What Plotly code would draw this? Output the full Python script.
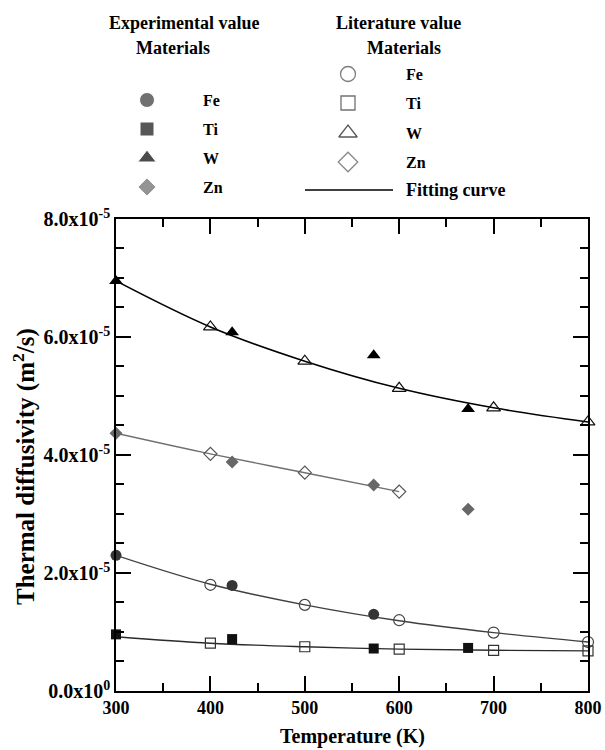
import plotly.graph_objects as go

# ---------------- data (thermal diffusivity, m^2/s) ----------------
T_exp = [300, 423, 573, 673]
T_exp_fe = [300, 423, 573]
fe_exp = [2.30e-5, 1.79e-5, 1.30e-5]
ti_exp = [0.96e-5, 0.88e-5, 0.72e-5, 0.73e-5]
w_exp = [6.95e-5, 6.08e-5, 5.69e-5, 4.78e-5]
zn_exp = [4.37e-5, 3.88e-5, 3.49e-5, 3.08e-5]

T_lit = [400, 500, 600, 700, 800]
T_lit_zn = [400, 500, 600]
fe_lit = [1.80e-5, 1.46e-5, 1.20e-5, 0.99e-5, 0.83e-5]
ti_lit = [0.81e-5, 0.75e-5, 0.71e-5, 0.69e-5, 0.68e-5]
w_lit = [6.17e-5, 5.59e-5, 5.13e-5, 4.80e-5, 4.56e-5]
zn_lit = [4.02e-5, 3.70e-5, 3.38e-5]

T_fit = [300, 400, 500, 600, 700, 800]
T_fit_zn = [300, 400, 500, 600]
fe_fit = [2.30e-5, 1.81e-5, 1.46e-5, 1.19e-5, 0.99e-5, 0.83e-5]
ti_fit = [0.92e-5, 0.81e-5, 0.75e-5, 0.71e-5, 0.69e-5, 0.68e-5]
w_fit = [6.95e-5, 6.17e-5, 5.59e-5, 5.13e-5, 4.80e-5, 4.56e-5]
zn_fit = [4.37e-5, 4.02e-5, 3.70e-5, 3.38e-5]

x_tickvals = [300, 400, 500, 600, 700, 800]
y_tickvals = [0, 2e-5, 4e-5, 6e-5, 8e-5]
y_ticktext = ["0.0x10<sup>0</sup>", "2.0x10<sup>-5</sup>", "4.0x10<sup>-5</sup>",
              "6.0x10<sup>-5</sup>", "8.0x10<sup>-5</sup>"]

materials = ["Fe", "Ti", "W", "Zn"]

# ---------------- styles ----------------
FONT = "Liberation Serif"
C_FE, C_TI, C_W, C_ZN = "#353535", "#111111", "#000000", "#676767"

fig = go.Figure()

# fitting curves
for xs, ys, col, w in [(T_fit, w_fit, "#000000", 1.6), (T_fit_zn, zn_fit, "#707070", 1.4),
                       (T_fit, fe_fit, "#404040", 1.4), (T_fit, ti_fit, "#2a2a2a", 1.4)]:
    fig.add_trace(go.Scatter(x=xs, y=ys, mode="lines", line=dict(color=col, width=w, shape="spline"),
                             showlegend=False, hoverinfo="skip", cliponaxis=False))

# literature (open symbols)
for xs, ys, sym, col, sz in [(T_lit, fe_lit, "circle-open", "#444444", 11),
                             (T_lit, ti_lit, "square-open", "#333333", 10),
                             (T_lit, w_lit, "triangle-up-open", "#111111", 12),
                             (T_lit_zn, zn_lit, "diamond-open", "#555555", 10)]:
    fig.add_trace(go.Scatter(x=xs, y=ys, mode="markers", cliponaxis=False,
                             marker=dict(symbol=sym, size=sz, color=col, line=dict(width=1.2, color=col)),
                             showlegend=False))

# experimental (filled symbols)
for xs, ys, sym, col, sz in [(T_exp_fe, fe_exp, "circle", C_FE, 11),
                             (T_exp, ti_exp, "square", C_TI, 10),
                             (T_exp, w_exp, "triangle-up", C_W, 12),
                             (T_exp, zn_exp, "diamond", C_ZN, 10)]:
    fig.add_trace(go.Scatter(x=xs, y=ys, mode="markers", cliponaxis=False,
                             marker=dict(symbol=sym, size=sz, color=col, line=dict(width=0)),
                             showlegend=False))

# minor-tick carrier (empty) on overlay axes
fig.add_trace(go.Scatter(x=[None], y=[None], xaxis="x3", yaxis="y3", mode="markers",
                         showlegend=False, hoverinfo="skip"))

# ---------------- custom legend (on an invisible pixel-mapped axis pair) ----------------
exp_leg_y = [100, 129, 158, 187]
lit_leg_y = [74, 103, 133, 162]
fig.add_trace(go.Scatter(x=[147] * 4, y=exp_leg_y, xaxis="x2", yaxis="y2", mode="markers",
                         marker=dict(symbol=["circle", "square", "triangle-up", "diamond"],
                                     size=[15, 14, 16, 14], color=[C_FE, C_TI, C_W, C_ZN]),
                         showlegend=False, hoverinfo="skip", cliponaxis=False))
fig.add_trace(go.Scatter(x=[348] * 4, y=lit_leg_y, xaxis="x2", yaxis="y2", mode="markers",
                         marker=dict(symbol=["circle-open", "square-open", "triangle-up-open", "diamond-open"],
                                     size=[15, 14, 16, 15], color=["#444", "#333", "#111", "#555"],
                                     line=dict(width=1.3)),
                         showlegend=False, hoverinfo="skip", cliponaxis=False))
fig.add_trace(go.Scatter(x=[305, 393], y=[190, 190], xaxis="x2", yaxis="y2", mode="lines",
                         line=dict(color="black", width=1.5), showlegend=False, hoverinfo="skip"))

ann = []
bold18 = dict(family=FONT, size=18, color="black")
bold16 = dict(family=FONT, size=16, color="black")
def B(s):
    return "<b>" + s + "</b>"
ann.append(dict(x=184, y=23, xref="x2", yref="y2", text=B("Experimental value"), showarrow=False,
                font=bold18, xanchor="center", yanchor="middle"))
ann.append(dict(x=173, y=48, xref="x2", yref="y2", text=B("Materials"), showarrow=False,
                font=bold18, xanchor="center", yanchor="middle"))
ann.append(dict(x=398, y=23, xref="x2", yref="y2", text=B("Literature value"), showarrow=False,
                font=bold18, xanchor="center", yanchor="middle"))
ann.append(dict(x=404, y=48, xref="x2", yref="y2", text=B("Materials"), showarrow=False,
                font=bold18, xanchor="center", yanchor="middle"))
for m, yy in zip(materials, exp_leg_y):
    ann.append(dict(x=201, y=yy, xref="x2", yref="y2", text=B(m), showarrow=False,
                    font=bold16, xanchor="left", yanchor="middle"))
for m, yy in zip(materials, lit_leg_y):
    ann.append(dict(x=404, y=yy, xref="x2", yref="y2", text=B(m), showarrow=False,
                    font=bold16, xanchor="left", yanchor="middle"))
ann.append(dict(x=404, y=190, xref="x2", yref="y2", text=B("Fitting curve"), showarrow=False,
                font=bold18, xanchor="left", yanchor="middle"))

# axis titles
ann.append(dict(x=0.5, y=0, xref="paper", yref="paper", yshift=-45, text=B("Temperature (K)"),
                showarrow=False, font=dict(family=FONT, size=20, color="black"),
                xanchor="center", yanchor="middle"))
ann.append(dict(x=0, y=0.3265, xref="paper", yref="paper", xshift=-92,
                text=B("Thermal diffusivity (m<sup>2</sup>/s)"), textangle=-90,
                showarrow=False, font=dict(family=FONT, size=25, color="black"),
                xanchor="center", yanchor="middle"))

common = dict(showline=True, linecolor="black", linewidth=1.5, mirror="allticks",
              ticks="inside", tickcolor="black", tickwidth=1.5,
              showgrid=False, zeroline=False, automargin=False)
YDOM = [0, 0.68805]

fig.update_layout(
    template="none",
    width=605, height=750,
    margin=dict(l=116, r=17, t=5, b=59),
    paper_bgcolor="white", plot_bgcolor="rgba(0,0,0,0)",
    xaxis=dict(range=[300, 800], tickmode="array", tickvals=x_tickvals,
               ticktext=[B(str(v)) for v in x_tickvals], domain=[0, 1], anchor="y",
               ticklen=15, tickfont=dict(family=FONT, size=18, color="black"), **common),
    yaxis=dict(range=[0, 8e-5], tickmode="array", tickvals=y_tickvals,
               ticktext=[B(t) for t in y_ticktext], domain=YDOM, anchor="x",
               ticklen=15, tickfont=dict(family=FONT, size=20, color="black"), **common),
    xaxis3=dict(range=[300, 800], overlaying="x", anchor="y", side="bottom", tickmode="linear",
                tick0=300, dtick=50, ticklen=8, showticklabels=False, **common),
    yaxis3=dict(range=[0, 8e-5], overlaying="y", anchor="x", side="left", domain=YDOM,
                tickmode="linear", tick0=0, dtick=0.5e-5, ticklen=8, showticklabels=False, **common),
    xaxis2=dict(range=[116, 588], domain=[0, 1], anchor="y2", visible=False, fixedrange=True),
    yaxis2=dict(range=[691, 5], domain=[0, 1], anchor="x2", visible=False, fixedrange=True),
    annotations=ann,
    showlegend=False,
)

fig.write_html("out.html", config={"displayModeBar": False},
               post_script="document.body.style.margin='0px';")
